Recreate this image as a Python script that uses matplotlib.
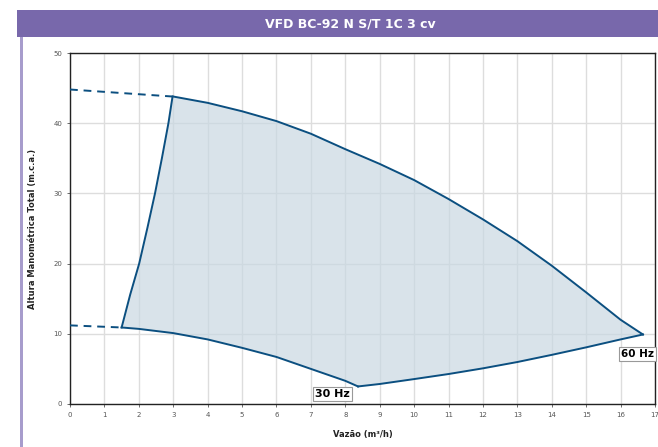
import matplotlib
matplotlib.use("Agg")
import matplotlib.pyplot as plt
from matplotlib.patches import Rectangle

# --- data ---
top_q = [3.0, 4.0, 5.0, 6.0, 7.0, 8.0, 9.0, 10.0, 11.0, 12.0, 13.0, 14.0, 15.0, 16.0, 16.65]
top_h = [43.8, 42.9, 41.7, 40.3, 38.5, 36.3, 34.2, 31.9, 29.2, 26.3, 23.2, 19.7, 15.9, 12.0, 9.9]

left_q = [1.5, 1.75, 2.01, 2.25, 2.47, 2.67, 2.86, 2.98]
left_h = [10.9, 15.6, 20.0, 25.1, 30.0, 35.0, 40.0, 43.8]

low30_q = [1.5, 2.0, 3.0, 4.0, 5.0, 6.0, 7.0, 8.0, 8.37]
low30_h = [10.9, 10.7, 10.1, 9.2, 8.0, 6.7, 5.0, 3.3, 2.5]

low60_q = [8.37, 9.0, 10.0, 11.0, 12.0, 13.0, 14.0, 15.0, 16.0, 16.65]
low60_h = [2.5, 2.85, 3.55, 4.27, 5.08, 5.98, 7.0, 8.07, 9.2, 9.9]

dash_top_q = [0.0, 2.98]
dash_top_h = [44.8, 43.8]
dash_low_q = [0.0, 1.5]
dash_low_h = [11.2, 10.9]

TITLE = "VFD BC-92 N S/T 1C 3 cv"
XLABEL = "Vazão (m³/h)"
YLABEL = "Altura Manométrica Total (m.c.a.)"

LINE = "#0b4f80"
FILL = "#c9d8e2"
PURPLE = "#7868ab"

plt.rcParams["font.family"] = ["DejaVu Sans"]

fig = plt.figure(figsize=(6.58, 4.47), dpi=100)

# header band + left rule
fig.patches.append(Rectangle((17 / 658, 1 - 37 / 447), 1, 27 / 447,
                             transform=fig.transFigure, facecolor=PURPLE,
                             edgecolor="none", zorder=0))
fig.patches.append(Rectangle((20 / 658, 0), 2.5 / 658, 1 - 37 / 447,
                             transform=fig.transFigure, facecolor="#a79ccc",
                             edgecolor="none", zorder=0))
fig.text(350 / 658, 1 - 24 / 447, TITLE, color="white", fontsize=9,
         fontweight="bold", ha="center", va="center")

ax = fig.add_axes([70 / 658, 43 / 447, 585 / 658, 351 / 447])

# shaded operating region
poly_q = left_q + top_q[1:] + low60_q[::-1][1:] + low30_q[::-1][1:]
poly_h = left_h + top_h[1:] + low60_h[::-1][1:] + low30_h[::-1][1:]
ax.fill(poly_q, poly_h, color=FILL, alpha=0.7, lw=0, zorder=1)

for q, h in [(top_q, top_h), (left_q, left_h), (low30_q, low30_h), (low60_q, low60_h)]:
    ax.plot(q, h, color=LINE, lw=1.4, zorder=3, solid_joinstyle="miter")
for q, h in [(dash_top_q, dash_top_h), (dash_low_q, dash_low_h)]:
    ax.plot(q, h, color=LINE, lw=1.4, ls=(0, (4, 3)), zorder=3)

box = dict(facecolor="white", edgecolor="#999999", linewidth=0.8, boxstyle="square,pad=0.2")
ax.text(7.62, 1.4, "30 Hz", fontsize=8, fontweight="bold", ha="center", va="center",
        bbox=box, zorder=5)
ax.text(16.98, 7.1, "60 Hz", fontsize=7.5, fontweight="bold", ha="right", va="center",
        bbox=box, zorder=5, clip_on=False)

ax.set_xlim(0, 17)
ax.set_ylim(0, 50)
ax.set_xticks(range(0, 18))
ax.set_yticks(range(0, 51, 10))
ax.grid(True, color="#dddddd", lw=1.0, zorder=0)
ax.set_axisbelow(True)
ax.tick_params(labelsize=5, colors="#555555", length=2, width=0.6)
for s in ax.spines.values():
    s.set_color("#222222")
    s.set_linewidth(1.0)

ax.set_xlabel(XLABEL, fontsize=6, fontweight="bold", color="#222222", labelpad=9)
ax.set_ylabel(YLABEL, fontsize=6, fontweight="bold", color="#222222", labelpad=12)

fig.savefig("out.png", dpi=100)
